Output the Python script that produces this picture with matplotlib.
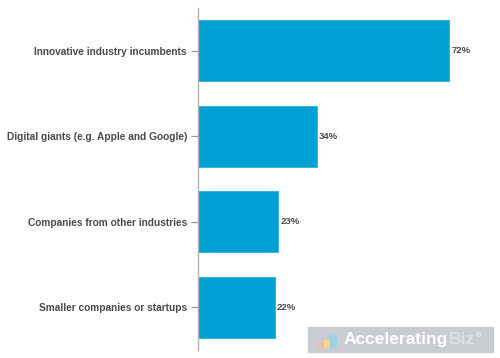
import numpy as np
import matplotlib.pyplot as plt
from matplotlib.patches import Rectangle

plt.rcParams['font.family'] = ['Liberation Sans', 'DejaVu Sans']

categories = ['Innovative industry incumbents',
              'Digital giants (e.g. Apple and Google)',
              'Companies from other industries',
              'Smaller companies or startups']
values = [72, 34, 23, 22]

bar_color = '#00a0d2'
text_color = '#4a4a4a'

fig = plt.figure(figsize=(5, 3.58), dpi=100)
ax = fig.add_axes([198 / 500, 8 / 358, 302 / 500, 342 / 358])

y = np.arange(len(categories))
ax.barh(y, values, height=0.71, color=bar_color, edgecolor='#2ab0dc', linewidth=0.6)
ax.set_ylim(len(categories) - 0.5, -0.5)
ax.set_xlim(0, 86.6)

ax.set_yticks(y)
ax.set_yticklabels(categories, fontsize=7.3, fontweight='bold', color=text_color)
ax.tick_params(axis='y', length=5, width=0.9, color='#999999', pad=3)
ax.set_xticks([])

for s in ['top', 'right', 'bottom']:
    ax.spines[s].set_visible(False)
ax.spines['left'].set_color('#b0b0b0')
ax.spines['left'].set_linewidth(1)

for yi, v in zip(y, values):
    ax.text(v + 0.6, yi, f'{v}%', va='center', ha='left', fontsize=6.8,
            fontweight='bold', color=text_color)

# watermark
fig.patches.append(Rectangle((308 / 500, 6 / 358), 185 / 500, 25 / 358,
                             transform=fig.transFigure, color='#c9cdd1', zorder=5))
t1 = fig.text(344 / 500, 18.5 / 358, 'Accelerating', fontsize=12.5, fontweight='bold',
              color='white', va='center', ha='left', zorder=6)
t2 = fig.text(0, 0, 'Biz', fontsize=12.5, fontweight='bold', color='#dde0e3',
              va='bottom', ha='left', zorder=6)
fig.canvas.draw()
r = fig.canvas.get_renderer()
bb = t1.get_window_extent(r).transformed(fig.transFigure.inverted())
t2.set_position((bb.x1, bb.y0))
bb2 = t2.get_window_extent(r).transformed(fig.transFigure.inverted())
fig.text(bb2.x1 + 1 / 500, bb2.y1 - 4 / 358, '®', fontsize=5, color='white',
         va='center', ha='left', zorder=6)
for i, (h, c) in enumerate(zip([4, 7, 12], ['#f2b8a8', '#f6d98f', '#9ad3ea'])):
    fig.patches.append(Rectangle(((318 + i * 6) / 500, 11 / 358), 6 / 500, h / 358,
                                 transform=fig.transFigure, color=c, zorder=6))

fig.savefig('out.png', dpi=100)
